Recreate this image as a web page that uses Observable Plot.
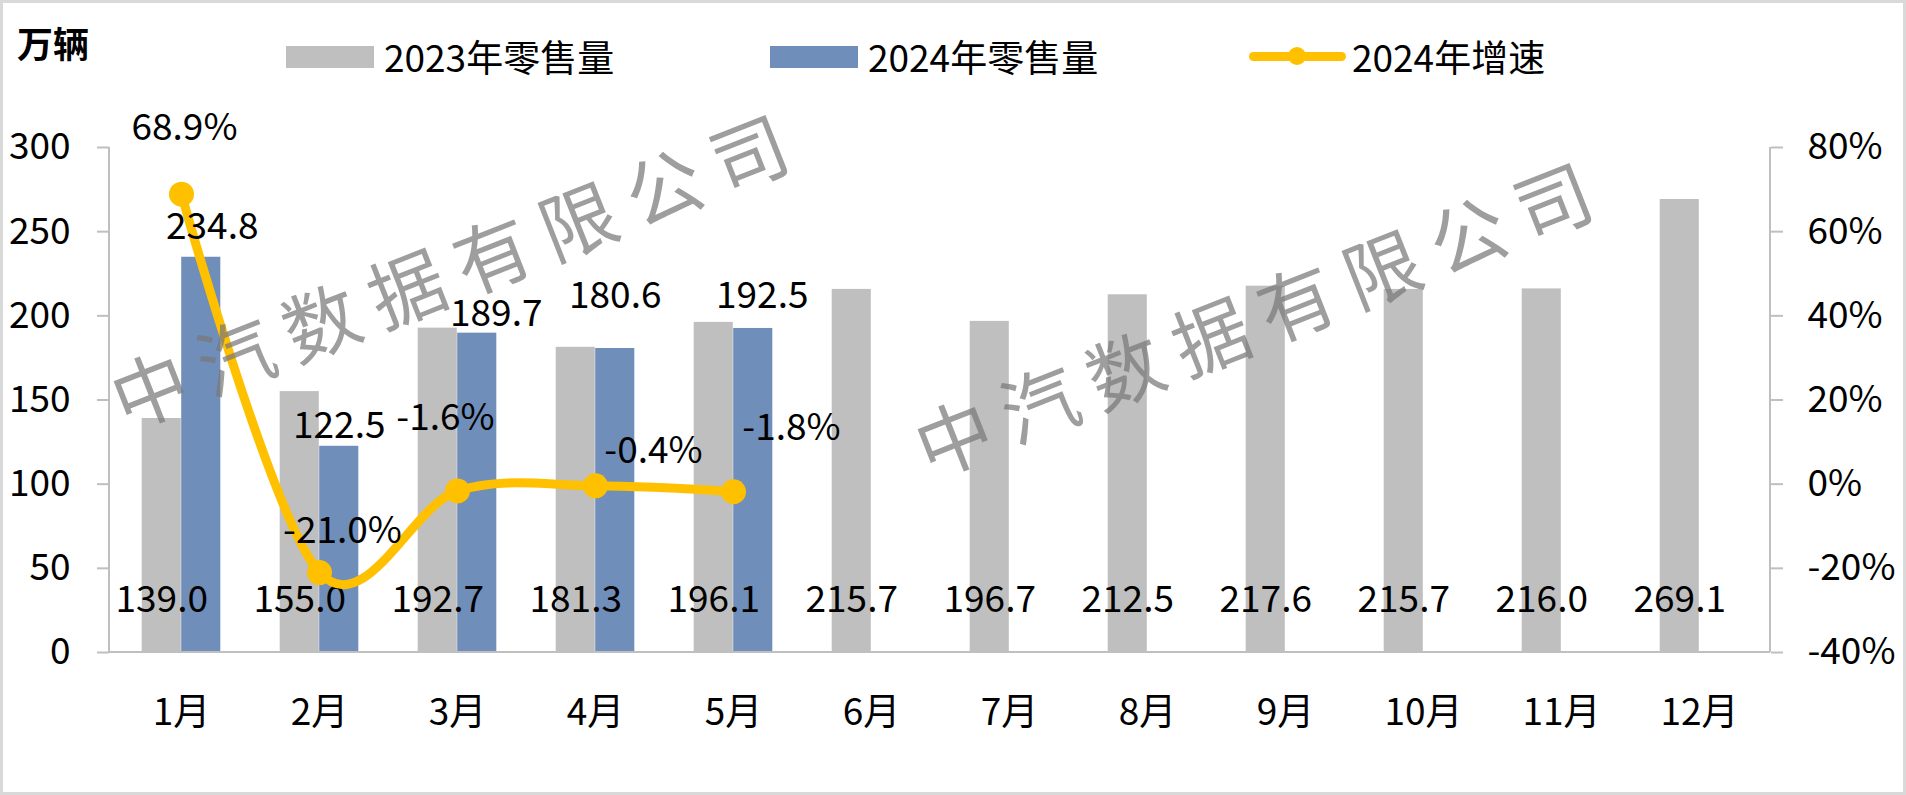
<!DOCTYPE html>
<html>
<head>
<meta charset="utf-8">
<script src="https://cdn.jsdelivr.net/npm/d3@7"></script>
<script src="https://cdn.jsdelivr.net/npm/@observablehq/plot@0.6"></script>
<style>
  html, body { margin: 0; padding: 0; background: #fff; }
  #wrap { position: relative; width: 1906px; height: 795px; overflow: hidden; background: #fff;
          font-family: "Noto Sans CJK SC", "Microsoft YaHei", sans-serif; color: #000; }
  #chart { position: absolute; left: 0; top: 100px; }
  .unit { position: absolute; left: 17px; top: 24px; font-size: 36px; line-height: 36px; font-weight: bold; }
  .lg-text { position: absolute; top: 38px; font-size: 37px; line-height: 37px; white-space: nowrap; }
  .lg-swatch { position: absolute; top: 46px; width: 88px; height: 22px; }
  .lg-line { position: absolute; top: 52px; height: 9px; border-radius: 5px; }
  .lg-dot { position: absolute; width: 18px; height: 18px; border-radius: 50%; }
  .wm { position: absolute; font-size: 76px; line-height: 76px; letter-spacing: 16px; padding-left: 16px;
        color: rgba(120,120,120,0.72); white-space: nowrap; transform: translate(-50%, -50%) rotate(-21.5deg);
        pointer-events: none; font-weight: 400; }
  #border { position: absolute; inset: 0; border: 3px solid #D9D9D9; box-sizing: border-box; pointer-events: none; }
</style>
</head>
<body>
<div id="wrap">
  <div id="head"></div>
  <div id="chart"></div>
  <div id="wm"></div>
  <div id="border"></div>
</div>
<script>
// ---------- data ----------
const months = ["1月","2月","3月","4月","5月","6月","7月","8月","9月","10月","11月","12月"];
const sales2023 = [139.0, 155.0, 192.7, 181.3, 196.1, 215.7, 196.7, 212.5, 217.6, 215.7, 216.0, 269.1];
const months2024 = ["1月","2月","3月","4月","5月"];
const sales2024 = [234.8, 122.5, 189.7, 180.6, 192.5];
const growth2024 = [68.9, -21.0, -1.6, -0.4, -1.8];
const leftTicks = [0, 50, 100, 150, 200, 250, 300];
const rightTicks = [-40, -20, 0, 20, 40, 60, 80];
const seriesNames = ["2023年零售量", "2024年零售量", "2024年增速"];
const unitLabel = "万辆";
const watermarkText = "中汽数据有限公司";

// ---------- style ----------
const C2023 = "#BFBFBF", C2024 = "#6F8EBA", CLINE = "#FFC000", AXIS = "#BFBFBF";
const FONT = '"Noto Sans CJK SC", "Microsoft YaHei", sans-serif';
const FS = 37;

// label nudges (pixel offsets of manually placed labels, relative to their anchor)
const barLabelNudge = [[11, -30], [0, -20], [19, -19], [0, -52], [9, -32]];
const growthLabelNudge = [[3, -66], [23, -41], [-12, -73], [58, -35], [58, -64]];

// ---------- tables ----------
const d2023 = months.map((m, i) => ({month: m, value: sales2023[i]}));
const d2024 = months2024.map((m, i) => ({month: m, value: sales2024[i]}));
const dGrowth = months2024.map((m, i) => ({month: m, g: growth2024[i]}));

// map growth (%) onto the left value scale (secondary axis)
const gMin = rightTicks[0], gMax = rightTicks[rightTicks.length - 1];
const yMin = leftTicks[0], yMax = leftTicks[leftTicks.length - 1];
const gToY = g => yMin + (g - gMin) / (gMax - gMin) * (yMax - yMin);
const yToG = y => gMin + (y - yMin) / (yMax - yMin) * (gMax - gMin);

function axisLines(index, scales, values, dims) {
  const g = d3.create("svg:g").attr("stroke", AXIS).attr("stroke-width", 2).attr("fill", "none");
  const xl = dims.marginLeft, xr = dims.width - dims.marginRight;
  const y0 = scales.y(yMin), y1 = scales.y(yMax);
  g.append("line").attr("x1", xl).attr("x2", xl).attr("y1", y0).attr("y2", y1);
  g.append("line").attr("x1", xr).attr("x2", xr).attr("y1", y0).attr("y2", y1);
  g.append("line").attr("x1", xl).attr("x2", xr).attr("y1", y0).attr("y2", y0);
  return g.node();
}

const chart = Plot.plot({
  width: 1906,
  height: 695,
  marginLeft: 109,
  marginRight: 136,
  marginTop: 47,
  marginBottom: 143,
  style: {fontFamily: FONT, fontSize: FS + "px", color: "#000", background: "transparent", overflow: "visible"},
  x: {type: "band", domain: months, padding: 0, label: null},
  y: {domain: [yMin, yMax], label: null},
  marks: [
    Plot.barY(d2023, {x: "month", y: "value", fill: C2023, insetLeft: 29.7, insetRight: 69.2}),
    Plot.barY(d2024, {x: "month", y: "value", fill: C2024, insetLeft: 69.2, insetRight: 29.7}),
    axisLines,
    Plot.axisY(leftTicks, {anchor: "left", tickSize: 12, tickPadding: 27, stroke: AXIS, strokeWidth: 2,
      fontSize: FS, tickFormat: d => String(d), label: null}),
    Plot.axisY(leftTicks, {anchor: "right", tickSize: 12, tickPadding: 25, stroke: AXIS, strokeWidth: 2,
      fontSize: FS, tickFormat: d => `${Math.round(yToG(d))}%`, label: null}),
    Plot.axisX({tickSize: 0, tickPadding: 46, fontSize: FS, label: null}),
    Plot.text(d2023, {x: "month", y: () => 0, text: d => d.value.toFixed(1), dx: -19.75, dy: -52,
      fontSize: FS, fill: "#000"}),
    Plot.line(dGrowth, {x: "month", y: d => gToY(d.g), stroke: CLINE, strokeWidth: 9, curve: "cardinal",
      strokeLinecap: "round"}),
    Plot.dot(dGrowth, {x: "month", y: d => gToY(d.g), r: 12.5, fill: CLINE, stroke: null}),
    ...d2024.map((d, i) => Plot.text([d], {x: "month", y: "value", text: v => v.value.toFixed(1),
      dx: 19.75 + barLabelNudge[i][0], dy: barLabelNudge[i][1], fontSize: FS, fill: "#000"})),
    ...dGrowth.map((d, i) => Plot.text([d], {x: "month", y: v => gToY(v.g), text: v => v.g.toFixed(1) + "%",
      dx: growthLabelNudge[i][0], dy: growthLabelNudge[i][1], fontSize: FS, fill: "#000"}))
  ]
});
document.getElementById("chart").appendChild(chart);

// ---------- header: unit + legend ----------
const head = document.getElementById("head");
head.innerHTML = `
  <div class="unit">${unitLabel}</div>
  <div class="lg-swatch" style="left:286px;background:${C2023}"></div>
  <div class="lg-text" style="left:384px">${seriesNames[0]}</div>
  <div class="lg-swatch" style="left:770px;background:${C2024}"></div>
  <div class="lg-text" style="left:868px">${seriesNames[1]}</div>
  <div class="lg-line" style="left:1249px;width:97px;background:${CLINE}"></div>
  <div class="lg-dot" style="left:1288px;top:47px;background:${CLINE}"></div>
  <div class="lg-text" style="left:1352px">${seriesNames[2]}</div>
`;

// ---------- watermark ----------
const wm = document.getElementById("wm");
wm.innerHTML = `
  <div class="wm" style="left:448px;top:268px">${watermarkText}</div>
  <div class="wm" style="left:1252px;top:316px">${watermarkText}</div>
`;
</script>
</body>
</html>
